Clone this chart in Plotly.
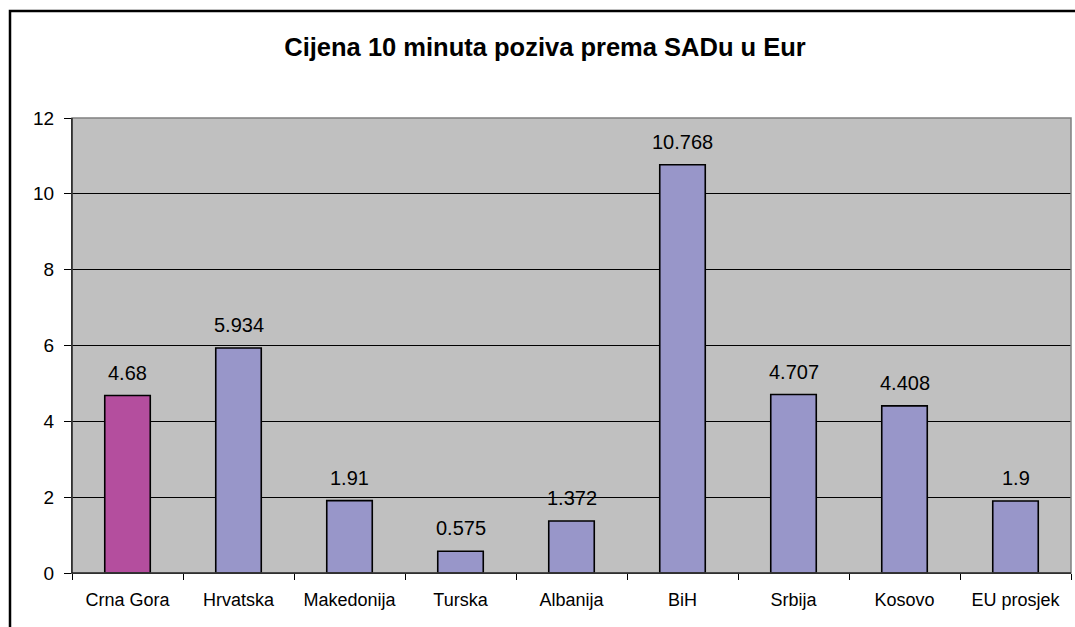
import plotly.graph_objects as go

categories = ["Crna Gora", "Hrvatska", "Makedonija", "Turska", "Albanija", "BiH", "Srbija", "Kosovo", "EU prosjek"]
values = [4.68, 5.934, 1.91, 0.575, 1.372, 10.768, 4.707, 4.408, 1.9]
labels = ["4.68", "5.934", "1.91", "0.575", "1.372", "10.768", "4.707", "4.408", "1.9"]
colors = ["#B44E9E"] + ["#9896C9"] * 8

W, H = 1075, 627
L, R, T, B = 72, 4, 118, 54
FONT = "Liberation Sans, Arial, sans-serif"

fig = go.Figure()
fig.add_trace(go.Bar(
    x=categories, y=values,
    marker=dict(color=colors, line=dict(color="black", width=1.6)),
    width=0.41, hoverinfo="x+y",
))

annotations = [
    dict(x=c, y=v, text=t, xref="x", yref="y", showarrow=False,
         yanchor="bottom", xanchor="center", yshift=10,
         font=dict(family=FONT, size=20, color="black"))
    for c, v, t in zip(categories, values, labels)
]

pw = W - L - R
ph = H - T - B
fig.update_layout(
    width=W, height=H,
    margin=dict(l=L, r=R, t=T, b=B, pad=0),
    paper_bgcolor="white", plot_bgcolor="#C0C0C0",
    showlegend=False,
    title=dict(text="<b>Cijena 10 minuta poziva prema SADu u Eur</b>", x=545 / W, xref="container",
               xanchor="center", y=1 - 47 / H, yanchor="middle",
               font=dict(family=FONT, size=25.5, color="black")),
    font=dict(family=FONT, size=18, color="black"),
    annotations=annotations,
    xaxis=dict(showgrid=False, showline=True, linecolor="black", linewidth=1,
               ticks="outside", ticklen=6, tickcolor="black", tickson="boundaries",
               tickfont=dict(size=18), ticklabelstandoff=10),
    yaxis=dict(range=[0, 12], dtick=2, showgrid=True, gridcolor="black", gridwidth=1,
               showline=True, linecolor="black", linewidth=1, ticks="outside", ticklen=7,
               tickcolor="black", tickfont=dict(size=19), zeroline=False, ticklabelstandoff=6),
    shapes=[
        dict(type="rect", xref="paper", yref="paper", x0=0, x1=1, y0=0, y1=1,
             line=dict(color="#808080", width=1.5), fillcolor="rgba(0,0,0,0)", layer="above"),
        dict(type="line", xref="paper", yref="paper", x0=0, x1=0, y0=0, y1=1,
             line=dict(color="black", width=1), layer="above"),
        dict(type="line", xref="paper", yref="paper", x0=0, x1=1, y0=0, y1=0,
             line=dict(color="black", width=1), layer="above"),
        dict(type="rect", xref="paper", yref="paper",
             x0=(10 - L) / pw, x1=(W + 20 - L) / pw,
             y0=-(H + 20 - T - ph) / ph, y1=(T - 11) / ph + 1,
             line=dict(color="black", width=2.5), fillcolor="rgba(0,0,0,0)"),
    ],
)
fig.write_html("out.html", config={"displayModeBar": False},
               post_script="document.body.style.margin='0';document.body.style.overflow='hidden';")
